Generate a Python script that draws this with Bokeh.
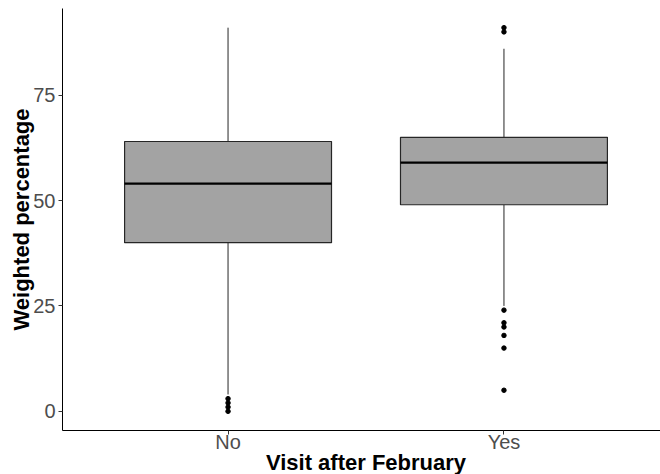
from bokeh.plotting import figure
from bokeh.models import FactorRange, Range1d, FixedTicker, ColumnDataSource
from bokeh.transform import dodge
from bokeh.embed import file_html
from bokeh.resources import INLINE

# Box summary per group
categories = ["No", "Yes"]
lower_whisker = [4, 25]
q1 = [40, 49]
median = [54, 59]
q3 = [64, 65]
upper_whisker = [91, 86]

# Points beyond the whiskers
outlier_group = ["No", "No", "No", "No",
                 "Yes", "Yes", "Yes", "Yes", "Yes", "Yes", "Yes", "Yes"]
outlier_value = [0, 1, 2, 3,
                 5, 15, 18, 20, 21, 24, 90, 91]

y_ticks = [0, 25, 50, 75]

FONT = "Liberation Sans"
EDGE = "#262626"
BOX_W = 0.75

boxes = ColumnDataSource(dict(cat=categories, low=lower_whisker, q1=q1,
                              med=median, q3=q3, high=upper_whisker))
points = ColumnDataSource(dict(cat=outlier_group, val=outlier_value))

x_range = FactorRange(factors=categories, range_padding=0.1,
                      range_padding_units="absolute")

p = figure(
    x_range=x_range,
    y_range=Range1d(-4.55, 95.55),
    frame_width=607, frame_height=422,
    min_border_left=62, min_border_top=8, min_border_right=0, min_border_bottom=0,
    output_backend="svg", toolbar_location=None,
    background_fill_color="white", border_fill_color="white",
    outline_line_color=None,
)

# Whiskers
p.segment(x0="cat", y0="low", x1="cat", y1="q1", source=boxes,
          line_color=EDGE, line_width=1)
p.segment(x0="cat", y0="q3", x1="cat", y1="high", source=boxes,
          line_color=EDGE, line_width=1)

# Boxes
p.vbar(x="cat", bottom="q1", top="q3", width=BOX_W, source=boxes,
       fill_color="#a3a3a3", line_color=EDGE, line_width=1.2)

# Medians
p.segment(x0=dodge("cat", -BOX_W / 2, range=x_range), y0="med",
          x1=dodge("cat", BOX_W / 2, range=x_range), y1="med",
          source=boxes, line_color="black", line_width=2.2)

# Outliers
p.scatter(x="cat", y="val", source=points, size=4.5,
          fill_color="black", line_color="black")

p.xgrid.grid_line_color = None
p.ygrid.grid_line_color = None

for ax in (p.xaxis[0], p.yaxis[0]):
    ax.axis_line_color = "black"
    ax.axis_line_width = 1
    ax.major_tick_line_color = "#333333"
    ax.major_tick_out = 4
    ax.major_tick_in = 0
    ax.minor_tick_line_color = None
    ax.major_label_text_font = FONT
    ax.major_label_text_font_size = "20px"
    ax.major_label_text_color = "#4d4d4d"
    ax.axis_label_text_font = FONT
    ax.axis_label_text_font_size = "22px"
    ax.axis_label_text_font_style = "bold"
    ax.axis_label_text_color = "black"

p.yaxis.ticker = FixedTicker(ticks=y_ticks)
p.xaxis.axis_label = "Visit after February"
p.yaxis.axis_label = "Weighted percentage"
p.xaxis.major_label_standoff = -4
p.xaxis.axis_label_standoff = -6
p.yaxis.major_label_standoff = 3
p.yaxis.axis_label_standoff = -4

open("out.html", "w").write(file_html(p, INLINE))
